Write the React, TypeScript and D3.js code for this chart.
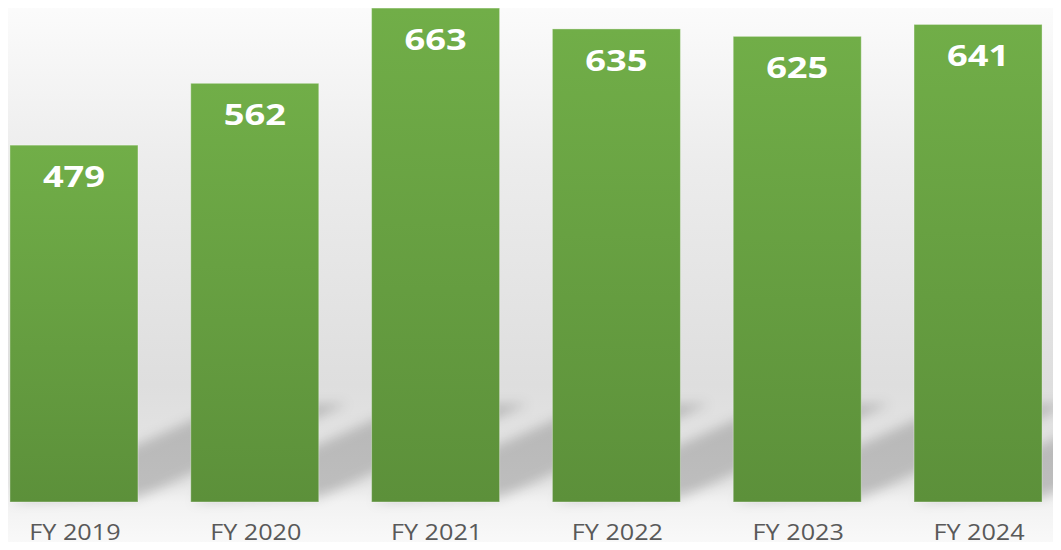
import React from 'react';
import * as d3 from 'd3';

const years = ['FY 2019', 'FY 2020', 'FY 2021', 'FY 2022', 'FY 2023', 'FY 2024'];
const values = [479, 562, 663, 635, 625, 641];

const W = 1061;
const H = 550;

export default function App() {
  const baseline = 502;

  const x = d3.scaleBand<string>()
    .domain(years)
    .range([0, 1052])
    .paddingInner(0.292)
    .paddingOuter(0.055);

  const y = d3.scaleLinear()
    .domain([0, 700])
    .range([baseline, baseline - 700 * 0.745]);

  const bw = x.bandwidth();
  const slope = 0.45; // shadow rises to the right
  const L = 210;

  return (
    <div style={{ margin: -8 }}>
      <svg width={W} height={H} style={{ display: 'block' }}>
        <defs>
          <linearGradient id="bg" x1="0" y1="0" x2="0" y2="1">
            <stop offset="0" stopColor="#fcfcfc" />
            <stop offset="0.3" stopColor="#ececec" />
            <stop offset="0.7" stopColor="#dedede" />
            <stop offset="0.88" stopColor="#e6e6e6" />
            <stop offset="0.913" stopColor="#f2f2f2" />
            <stop offset="1" stopColor="#fafafa" />
          </linearGradient>
          <linearGradient id="bar" x1="0" y1="0" x2="0" y2="1">
            <stop offset="0" stopColor="#71ae48" />
            <stop offset="1" stopColor="#5c903a" />
          </linearGradient>
          <filter id="blur" x="-20%" y="-50%" width="140%" height="200%">
            <feGaussianBlur stdDeviation="6" />
          </filter>
        </defs>

        <rect x={0} y={0} width={W} height={H} fill="url(#bg)" />

        {/* cast shadows behind the bars */}
        <g filter="url(#blur)">
          {years.map((yr) => {
            const x0 = x(yr)!;
            const x1 = x0 + bw;
            const pts = [
              [x0, baseline],
              [x1, baseline - 4],
              [x1 + L, baseline - slope * L - 4],
              [x0 + L, baseline - slope * L],
            ];
            return (
              <polygon
                key={yr}
                points={pts.map((p) => p.join(',')).join(' ')}
                fill="#000"
                fillOpacity={0.18}
              />
            );
          })}
        </g>

        {/* bars */}
        {years.map((yr, i) => (
          <rect
            key={yr}
            x={x(yr)}
            y={y(values[i])}
            width={bw}
            height={baseline - y(values[i])}
            fill="url(#bar)"
            stroke="#ffffff"
            strokeOpacity={0.35}
            strokeWidth={1}
          />
        ))}

        {/* value labels */}
        {years.map((yr, i) => {
          const cx = x(yr)! + bw / 2;
          const ty = y(values[i]) + 42;
          return (
            <text
              key={yr}
              transform={`translate(${cx},${ty}) scale(1.25,1)`}
              textAnchor="middle"
              fill="#ffffff"
              fontFamily="'Open Sans', sans-serif"
              fontWeight="bold"
              fontSize={29}
            >
              {values[i]}
            </text>
          );
        })}

        {/* category labels */}
        {years.map((yr) => (
          <text
            key={yr}
            transform={`translate(${x(yr)! + bw / 2 + 1},540) scale(1.2,1)`}
            textAnchor="middle"
            fill="#595959"
            fontFamily="'Open Sans', sans-serif"
            fontSize={21}
          >
            {yr}
          </text>
        ))}
      </svg>
    </div>
  );
}
